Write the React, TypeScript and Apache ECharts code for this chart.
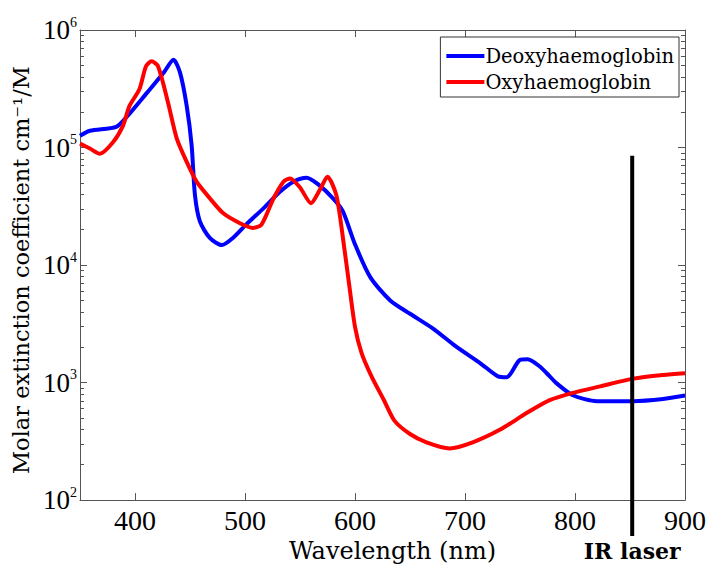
import React, { useEffect, useRef } from "react";
import * as echarts from "echarts";

// Deoxyhaemoglobin (blue)
const deoxyWavelength = [350, 359, 383, 392, 411, 426, 435, 441, 447, 451.5, 454.5, 459, 468, 479, 489, 501, 517, 532, 544, 556, 566, 580, 589, 600, 614, 632, 650, 671, 692, 714, 730, 738, 750, 757, 768, 777, 783, 798, 820, 853, 880, 900];
const deoxyValues = [126000, 139000, 150000, 180000, 293000, 432000, 558000, 432000, 226000, 104000, 39400, 23500, 17000, 14800, 17000, 22100, 30500, 42200, 51200, 55300, 49000, 37000, 28600, 15000, 7850, 5000, 3850, 2880, 2020, 1460, 1130, 1110, 1560, 1580, 1370, 1130, 990, 780, 695, 695, 725, 775];

// Oxyhaemoglobin (red)
const oxyWavelength = [350, 359, 368, 380, 389, 395, 404, 410, 415, 421, 430, 438, 447, 456, 468, 480, 495, 507, 515, 526, 535, 541, 550, 560, 568, 575, 583, 589, 595, 600, 606, 615, 626, 636, 650, 665, 686, 707, 732, 756, 777, 798, 823, 853, 880, 900];
const oxyValues = [108000, 98000, 88500, 111000, 153000, 226000, 313000, 491000, 541000, 490000, 242000, 119000, 75500, 51200, 37000, 27700, 22800, 20700, 22100, 37000, 51200, 54600, 45700, 33600, 43600, 56400, 39400, 17100, 6460, 2980, 1780, 1130, 718, 472, 365, 310, 275, 310, 398, 550, 708, 817, 929, 1080, 1160, 1200];

const xTickValues = [400, 500, 600, 700, 800, 900];
const yMajorTicks = [100, 1000, 10000, 100000, 1000000];
const yMinorMantissas = [2, 3, 4, 5, 6, 7, 8, 9];
const seriesNames = ["Deoxyhaemoglobin", "Oxyhaemoglobin"];
const laserWavelength = 852;
const laserTopValue = 85000;
const laserLabel = "IR laser";

const yMinorTicks: number[] = [];
yMajorTicks.slice(0, -1).forEach((d) => yMinorMantissas.forEach((m) => yMinorTicks.push(m * d)));

const TICK_FONT = "Liberation Serif";
const TEXT_FONT = "DejaVu Serif";
const AXIS_COLOR = "#555";

export default function App() {
  const ref = useRef<HTMLDivElement>(null);
  useEffect(() => {
    document.body.style.margin = "0";
    const chart = echarts.init(ref.current!, null, { renderer: "svg" });
    const baseY = {
      type: "log" as const,
      logBase: 10,
      min: 100,
      max: 1000000,
      splitLine: { show: false },
      minorSplitLine: { show: false },
    };
    const option: any = {
      animation: false,
      backgroundColor: "#fff",
      grid: { left: 80, top: 30, right: 24, bottom: 63, containLabel: false },
      legend: {
        data: seriesNames,
        orient: "vertical",
        right: 30,
        top: 37,
        icon: "rect",
        itemWidth: 38,
        itemHeight: 4,
        itemGap: 6,
        padding: [9, 5, 5, 6],
        borderColor: "#333",
        borderWidth: 1,
        borderRadius: 0,
        backgroundColor: "#fff",
        textStyle: { fontFamily: TEXT_FONT, fontSize: 19.5, color: "#000", padding: [0, 0, 0, -4] },
      },
      xAxis: [
        {
          type: "value",
          min: 350,
          max: 900,
          position: "bottom",
          splitLine: { show: false },
          axisLine: { show: true, lineStyle: { color: AXIS_COLOR, width: 1 } },
          axisTick: { show: true, inside: true, length: 7, customValues: xTickValues, lineStyle: { color: AXIS_COLOR } },
          axisLabel: { customValues: xTickValues, margin: 6, fontFamily: TICK_FONT, fontSize: 28, color: "#000" },
          name: "Wavelength (nm)",
          nameLocation: "middle",
          nameGap: 32,
          nameTextStyle: { fontFamily: TEXT_FONT, fontSize: 24, color: "#000", padding: [0, 0, 0, 20] },
        },
        {
          type: "value",
          min: 350,
          max: 900,
          position: "top",
          splitLine: { show: false },
          axisLine: { show: true, lineStyle: { color: AXIS_COLOR, width: 1 } },
          axisTick: { show: true, inside: true, length: 7, customValues: xTickValues, lineStyle: { color: AXIS_COLOR } },
          axisLabel: { show: false },
        },
      ],
      yAxis: [
        {
          ...baseY,
          position: "left",
          axisLine: { show: true, onZero: false, lineStyle: { color: AXIS_COLOR, width: 1 } },
          axisTick: { show: true, inside: true, length: 7, customValues: yMajorTicks, lineStyle: { color: AXIS_COLOR } },
          axisLabel: {
            customValues: yMajorTicks,
            margin: 3,
            formatter: (v: number) => `{b|10}{e|${Math.round(Math.log10(v))}}`,
            rich: {
              b: { fontFamily: TICK_FONT, fontSize: 27, color: "#000", lineHeight: 30 },
              e: { fontFamily: TICK_FONT, fontSize: 14, color: "#000", verticalAlign: "top", lineHeight: 14 },
            },
          },
          name: "Molar extinction coefficient cm⁻¹/M",
          nameLocation: "middle",
          nameGap: 40,
          nameTextStyle: { fontFamily: TEXT_FONT, fontSize: 22.5, color: "#000", padding: [0, 10, 0, 0] },
        },
        {
          ...baseY,
          position: "left",
          axisLine: { show: false },
          axisTick: { show: true, inside: true, length: 4, customValues: yMinorTicks, lineStyle: { color: AXIS_COLOR } },
          axisLabel: { show: false },
        },
        {
          ...baseY,
          position: "right",
          axisLine: { show: true, onZero: false, lineStyle: { color: AXIS_COLOR, width: 1 } },
          axisTick: { show: true, inside: true, length: 7, customValues: yMajorTicks, lineStyle: { color: AXIS_COLOR } },
          axisLabel: { show: false },
        },
        {
          ...baseY,
          position: "right",
          axisLine: { show: false },
          axisTick: { show: true, inside: true, length: 4, customValues: yMinorTicks, lineStyle: { color: AXIS_COLOR } },
          axisLabel: { show: false },
        },
      ],
      series: [
        {
          name: seriesNames[0],
          type: "line",
          xAxisIndex: 0,
          yAxisIndex: 0,
          data: deoxyWavelength.map((w, i) => [w, deoxyValues[i]]),
          showSymbol: false,
          smooth: 0.25,
          color: "#0000ff",
          lineStyle: { color: "#0000ff", width: 4 },
        },
        {
          name: seriesNames[1],
          type: "line",
          xAxisIndex: 0,
          yAxisIndex: 0,
          data: oxyWavelength.map((w, i) => [w, oxyValues[i]]),
          showSymbol: false,
          smooth: 0.25,
          color: "#ff0000",
          lineStyle: { color: "#ff0000", width: 4 },
        },
      ],
    };
    chart.setOption(option);
    const [lx, top] = chart.convertToPixel({ xAxisIndex: 0, yAxisIndex: 0 }, [laserWavelength, laserTopValue]);
    const [, bottomAxis] = chart.convertToPixel({ xAxisIndex: 0, yAxisIndex: 0 }, [laserWavelength, 100]);
    chart.setOption({
      graphic: [
        {
          type: "line",
          shape: { x1: lx, y1: top, x2: lx, y2: bottomAxis + 36 },
          style: { stroke: "#000", lineWidth: 4 },
          z: 100,
        },
        {
          type: "text",
          x: lx,
          y: bottomAxis + 51,
          style: {
            text: laserLabel,
            fontFamily: TEXT_FONT,
            fontWeight: "bold",
            fontSize: 22,
            fill: "#000",
            textAlign: "center",
            textVerticalAlign: "middle",
          },
          z: 100,
        },
      ],
    });
    return () => chart.dispose();
  }, []);
  return <div ref={ref} style={{ width: 709, height: 568 }} />;
}
